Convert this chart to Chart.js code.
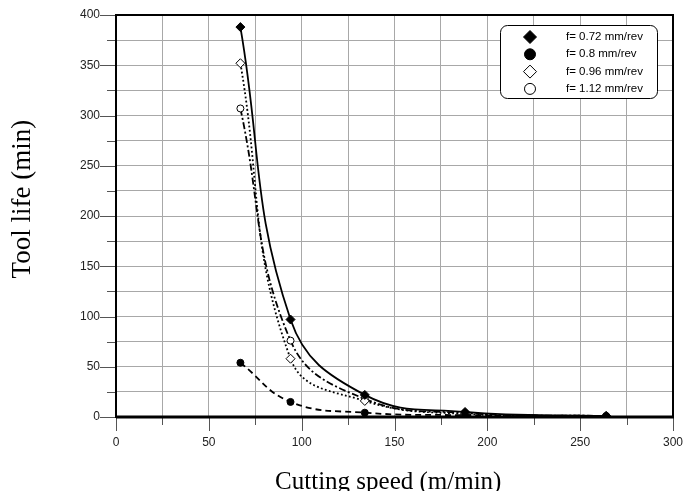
<!DOCTYPE html>
<html>
<head>
<meta charset="utf-8">
<script src="https://cdn.jsdelivr.net/npm/chart.js@4.4.1/dist/chart.umd.min.js"></script>
<style>
  html, body { margin: 0; padding: 0; background: #fff; }
  #wrap { width: 688px; height: 491px; }
</style>
</head>
<body>
<div id="wrap"><canvas id="chart"></canvas></div>
<script>
// cutting speed (m/min) and tool life (min)
const speeds = [67, 94, 134, 188, 264];
const life072 = [388, 97, 22, 5, 1];
const life080 = [54, 15, 4.3, 1.8, 0.5];
const life096 = [352, 58, 16, 3, 1];
const life112 = [307, 76, 18, 4, 1];

const feedLabels = ["f= 0.72 mm/rev", "f= 0.8 mm/rev", "f= 0.96 mm/rev", "f= 1.12 mm/rev"];
const xTicks = [0, 50, 100, 150, 200, 250, 300];
const yTicks = [0, 50, 100, 150, 200, 250, 300, 350, 400];

function pts(ys) { return speeds.map((x, i) => ({ x: x, y: ys[i] })); }

const styles = [
  { style: "rectRot", fill: "#000", r: 4.5, dash: [] },
  { style: "circle", fill: "#000", r: 3.5, dash: [6, 4] },
  { style: "rectRot", fill: "#fff", r: 4.5, dash: [1.8, 2.4] },
  { style: "circle", fill: "#fff", r: 3.5, dash: [7, 2.5, 2, 2.5] }
];
const series = [life072, life080, life096, life112];

const datasets = series.map((s, i) => ({
  label: feedLabels[i],
  data: pts(s),
  showLine: true,
  tension: 0.42,
  borderColor: "#000",
  borderWidth: 1.8,
  borderDash: styles[i].dash,
  pointStyle: styles[i].style,
  pointRadius: styles[i].r,
  pointBackgroundColor: styles[i].fill,
  pointBorderColor: "#000",
  pointBorderWidth: 1
}));

// frame, tick marks and the legend box
const framePlugin = {
  id: "frame",
  afterDraw(chart) {
    const { ctx, chartArea: a, scales } = chart;
    ctx.save();
    // tick marks
    ctx.strokeStyle = "#555";
    ctx.lineWidth = 1;
    scales.x.ticks.forEach(t => {
      const px = Math.round(scales.x.getPixelForValue(t.value)) + 0.5;
      const len = t.value % 50 === 0 ? 14 : 8;
      ctx.beginPath(); ctx.moveTo(px, a.bottom); ctx.lineTo(px, a.bottom + len); ctx.stroke();
    });
    scales.y.ticks.forEach(t => {
      const py = Math.round(scales.y.getPixelForValue(t.value)) + 0.5;
      const len = t.value % 50 === 0 ? 16 : 9;
      ctx.beginPath(); ctx.moveTo(a.left, py); ctx.lineTo(a.left - len, py); ctx.stroke();
    });
    // frame
    ctx.strokeStyle = "#000";
    ctx.lineWidth = 2;
    ctx.strokeRect(a.left, a.top, a.right - a.left, a.bottom - a.top);
    ctx.lineWidth = 3;
    ctx.beginPath(); ctx.moveTo(a.left, a.bottom); ctx.lineTo(a.right + 1, a.bottom); ctx.stroke();

    // legend
    const bx = 500, by = 25, bw = 157, bh = 73, rr = 7;
    ctx.fillStyle = "#fff";
    ctx.strokeStyle = "#000";
    ctx.lineWidth = 1;
    ctx.beginPath();
    ctx.roundRect(bx + 0.5, by + 0.5, bw, bh, rr);
    ctx.fill(); ctx.stroke();
    ctx.font = "11.5px 'Liberation Sans', Arial, sans-serif";
    ctx.textBaseline = "middle";
    feedLabels.forEach((lab, i) => {
      const y = by + 12 + i * 17.3;
      const x = 530;
      const st = styles[i];
      ctx.fillStyle = st.fill;
      ctx.strokeStyle = "#000";
      ctx.lineWidth = 1;
      ctx.beginPath();
      if (st.style === "rectRot") {
        const r = 6.5;
        ctx.moveTo(x - r, y); ctx.lineTo(x, y - r); ctx.lineTo(x + r, y); ctx.lineTo(x, y + r); ctx.closePath();
      } else {
        ctx.arc(x, y, 5.5, 0, Math.PI * 2);
      }
      ctx.fill(); ctx.stroke();
      ctx.fillStyle = "#000";
      ctx.textAlign = "left";
      ctx.fillText(lab, 566, y);
    });
    ctx.restore();
  }
};

new Chart(document.getElementById("chart"), {
  type: "scatter",
  data: { datasets: datasets },
  plugins: [framePlugin],
  options: {
    responsive: true,
    maintainAspectRatio: false,
    animation: false,
    layout: { padding: { top: 15, right: 15, left: 0, bottom: 0 } },
    plugins: { legend: { display: false }, tooltip: { enabled: false } },
    scales: {
      x: {
        type: "linear",
        min: 0, max: 300,
        afterBuildTicks: s => { s.ticks = []; for (let v = 0; v <= 300; v += 25) s.ticks.push({ value: v }); },
        afterFit: s => { s.height = 74; s.paddingLeft = 0; s.paddingRight = 0; },
        grid: { color: "#a8a8a8", lineWidth: 1, drawTicks: false },
        border: { display: false },
        ticks: {
          padding: 18,
          color: "#222",
          font: { family: "'Liberation Sans', Arial, sans-serif", size: 12 },
          callback: v => (xTicks.includes(v) ? String(v) : "")
        },
        title: {
          display: true,
          text: "Cutting speed (m/min)  ",
          color: "#000",
          padding: { top: 0, bottom: -6 },
          font: { family: "'Liberation Serif', 'Times New Roman', serif", size: 25, lineHeight: 1.2 }
        }
      },
      y: {
        type: "linear",
        min: 0, max: 400,
        afterBuildTicks: s => { s.ticks = []; for (let v = 0; v <= 400; v += 25) s.ticks.push({ value: v }); },
        afterFit: s => { s.width = 116; s.paddingTop = 0; s.paddingBottom = 0; },
        grid: { color: "#a8a8a8", lineWidth: 1, drawTicks: false },
        border: { display: false },
        ticks: {
          padding: 16,
          color: "#222",
          font: { family: "'Liberation Sans', Arial, sans-serif", size: 12 },
          callback: v => (yTicks.includes(v) ? String(v) : "")
        },
        title: {
          display: true,
          text: "     Tool life (min)",
          color: "#000",
          padding: { top: 7, bottom: 0 },
          font: { family: "'Liberation Serif', 'Times New Roman', serif", size: 27, lineHeight: 1.2 }
        }
      }
    }
  }
});
</script>
</body>
</html>
